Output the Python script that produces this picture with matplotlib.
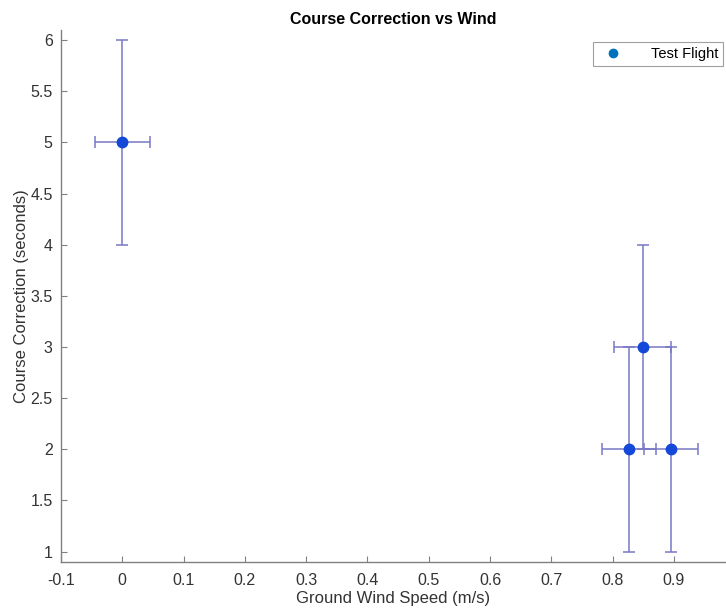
import matplotlib.pyplot as plt
import numpy as np

plt.rcParams['font.family'] = ['Liberation Sans', 'DejaVu Sans']

# test flight measurements
wind = [0.0, 0.827, 0.849, 0.895]
correction = [5, 2, 3, 2]
wind_err = [0.045, 0.044, 0.047, 0.044]
corr_err = [1, 1, 1, 1]

fig = plt.figure(figsize=(7.26, 6.10), dpi=100)
ax = fig.add_axes([0.084, 0.079, 0.916, 0.872])

ax.errorbar(wind, correction, xerr=wind_err, yerr=corr_err, fmt='none',
            ecolor='#7878c4', elinewidth=1.1, capsize=4, capthick=1.1)
ax.plot(wind, correction, 'o', color='#1448d8', markersize=7.5, zorder=3)
ax.plot([], [], 'o', color='#0072BD', markersize=6, label='Test Flight')

ax.set_xlim(-0.1, 0.985)
ax.set_ylim(0.9, 6.1)
ax.set_xticks(np.arange(-0.1, 0.95, 0.1))
ax.set_xticklabels(['-0.1', '0', '0.1', '0.2', '0.3', '0.4', '0.5', '0.6', '0.7', '0.8', '0.9'])
ax.set_yticks(np.arange(1, 6.5, 0.5))
ax.set_yticklabels(['1', '1.5', '2', '2.5', '3', '3.5', '4', '4.5', '5', '5.5', '6'])

for side in ['top', 'right']:
    ax.spines[side].set_visible(False)
for side in ['left', 'bottom']:
    ax.spines[side].set_color('#808080')
    ax.spines[side].set_linewidth(1.0)
ax.tick_params(direction='in', length=4, width=0.8, color='#808080',
               labelsize=11.5, labelcolor='#333333')
ax.tick_params(axis='x', pad=8)
ax.tick_params(axis='y', pad=6)

ax.set_title('Course Correction vs Wind', fontsize=11.5, fontweight='bold', pad=4)
ax.set_xlabel('Ground Wind Speed (m/s)', fontsize=12, color='#333333', labelpad=2)
ax.set_ylabel('Course Correction (seconds)', fontsize=12, color='#333333', labelpad=1)

leg = ax.legend(loc='upper right', fontsize=10.5, fancybox=False, frameon=True,
                edgecolor='#888888', borderpad=0.35, handlelength=2.0,
                handletextpad=1.6, borderaxespad=0,
                bbox_to_anchor=(0.9955, 0.977))
leg.get_frame().set_linewidth(0.8)

fig.savefig('out.png', dpi=100)
